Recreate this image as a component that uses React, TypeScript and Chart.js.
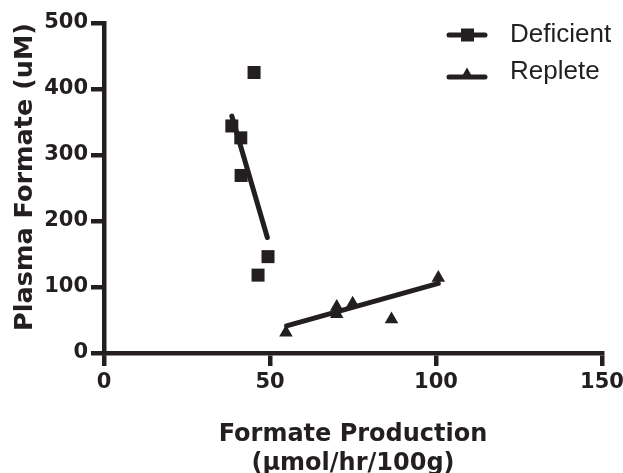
import React, { useEffect, useRef } from "react";
import { Chart, registerables } from "chart.js";

Chart.register(...registerables);

const INK = "#231f20";

// Data
const deficientX = [45.2, 38.5, 41.2, 41.3, 49.4, 46.4];
const deficientY = [425, 344, 326, 269, 146, 118];
const deficientFitX = [38.5, 49.2];
const deficientFitY = [359, 175];

const repleteX = [54.8, 70.1, 70.1, 74.9, 86.6, 100.7];
const repleteY = [31, 70, 59, 75, 51, 114];
const repleteFitX = [55.0, 100.7];
const repleteFitY = [41, 105.6];

const seriesNames = ["Deficient", "Replete"];
const xTicks = [0, 50, 100, 150];
const yTicks = [0, 100, 200, 300, 400, 500];
const xTitle = ["Formate Production", "(\u03bcmol/hr/100g)"];
const yTitle = "Plasma Formate (uM)";

const toPoints = (xs: number[], ys: number[]) => xs.map((x, i) => ({ x, y: ys[i] }));

const AXIS_FONT = '"DejaVu Sans", "Liberation Sans", Arial, sans-serif';
const LEGEND_FONT = '"Liberation Sans", Arial, sans-serif';

const legendPlugin = {
  id: "lineLegend",
  afterDraw(chart: any) {
    const ctx: CanvasRenderingContext2D = chart.ctx;
    ctx.save();
    const rows = [
      { name: seriesNames[0], lineY: 35, textY: 35, style: "rect" },
      { name: seriesNames[1], lineY: 77, textY: 72, style: "triangle" },
    ];
    rows.forEach((r) => {
      ctx.strokeStyle = INK;
      ctx.fillStyle = INK;
      ctx.lineWidth = 5;
      ctx.lineCap = "round";
      ctx.beginPath();
      ctx.moveTo(449, r.lineY);
      ctx.lineTo(485, r.lineY);
      ctx.stroke();
      if (r.style === "rect") {
        ctx.fillRect(461, r.lineY - 6.5, 13, 13);
      } else {
        ctx.beginPath();
        ctx.moveTo(467, r.lineY - 9.5);
        ctx.lineTo(473.5, r.lineY + 2);
        ctx.lineTo(460.5, r.lineY + 2);
        ctx.closePath();
        ctx.fill();
      }
      ctx.font = "26px " + LEGEND_FONT;
      ctx.textAlign = "left";
      ctx.textBaseline = "middle";
      ctx.fillText(r.name, 510, r.textY);
    });
    ctx.restore();
  },
};

export default function App() {
  const canvasRef = useRef<HTMLCanvasElement | null>(null);

  useEffect(() => {
    if (!canvasRef.current) return;
    const chart = new Chart(canvasRef.current, {
      type: "scatter",
      data: {
        datasets: [
          {
            label: seriesNames[0],
            data: toPoints(deficientX, deficientY),
            pointStyle: "rect",
            pointRadius: 9.2,
            pointHoverRadius: 9.2,
            backgroundColor: INK,
            borderColor: INK,
            borderWidth: 0,
            showLine: false,
          },
          {
            label: seriesNames[0] + " fit",
            data: toPoints(deficientFitX, deficientFitY),
            showLine: true,
            pointRadius: 0,
            borderColor: INK,
            borderWidth: 5,
            borderCapStyle: "round",
            fill: false,
          },
          {
            label: seriesNames[1],
            data: toPoints(repleteX, repleteY),
            pointStyle: "triangle",
            pointRadius: 7.8,
            pointHoverRadius: 7.8,
            backgroundColor: INK,
            borderColor: INK,
            borderWidth: 0,
            showLine: false,
          },
          {
            label: seriesNames[1] + " fit",
            data: toPoints(repleteFitX, repleteFitY),
            showLine: true,
            pointRadius: 0,
            borderColor: INK,
            borderWidth: 5,
            borderCapStyle: "round",
            fill: false,
          },
        ] as any,
      },
      options: {
        responsive: false,
        animation: false,
        devicePixelRatio: 1,
        layout: { padding: { top: 23, right: 0, left: 0, bottom: 0 } },
        plugins: {
          legend: { display: false },
          tooltip: { enabled: false },
          title: { display: false },
        },
        scales: {
          x: {
            type: "linear",
            min: xTicks[0],
            max: xTicks[xTicks.length - 1],
            afterBuildTicks: (scale: any) => {
              scale.ticks = xTicks.map((v) => ({ value: v }));
            },
            afterFit: (scale: any) => {
              scale.height = 120;
              scale.paddingRight = 21;
              scale.paddingLeft = 0;
            },
            ticks: {
              color: INK,
              font: { family: AXIS_FONT, size: 21, weight: "bold" },
              padding: 4,
              maxRotation: 0,
              autoSkip: false,
            },
            grid: {
              drawOnChartArea: false,
              drawTicks: true,
              tickLength: 13,
              lineWidth: 4.5,
              color: INK,
            },
            border: { display: true, width: 4.5, color: INK },
            title: {
              display: true,
              text: xTitle,
              color: INK,
              font: { family: AXIS_FONT, size: 24, weight: "bold", lineHeight: 1.2 },
              padding: { top: 0, bottom: -5 },
            },
          },
          y: {
            type: "linear",
            min: yTicks[0],
            max: yTicks[yTicks.length - 1],
            afterBuildTicks: (scale: any) => {
              scale.ticks = yTicks.map((v) => ({ value: v }));
            },
            afterFit: (scale: any) => {
              scale.width = 104;
              scale.paddingTop = 0;
              scale.paddingBottom = 0;
            },
            ticks: {
              color: INK,
              font: { family: AXIS_FONT, size: 21, weight: "bold" },
              padding: 3,
              autoSkip: false,
            },
            grid: {
              drawOnChartArea: false,
              drawTicks: true,
              tickLength: 13,
              lineWidth: 4.5,
              color: INK,
            },
            border: { display: true, width: 4.5, color: INK },
            title: {
              display: true,
              text: yTitle,
              align: "end",
              color: INK,
              font: { family: AXIS_FONT, size: 25.5, weight: "bold", lineHeight: 1.2 },
              padding: { top: 10, bottom: 0 },
            },
          },
        },
      } as any,
      plugins: [legendPlugin],
    });
    return () => chart.destroy();
  }, []);

  return (
    <div style={{ position: "absolute", left: 0, top: 0, width: 623, height: 473, background: "#ffffff" }}>
      <canvas ref={canvasRef} width={623} height={473} style={{ display: "block" }} />
    </div>
  );
}
